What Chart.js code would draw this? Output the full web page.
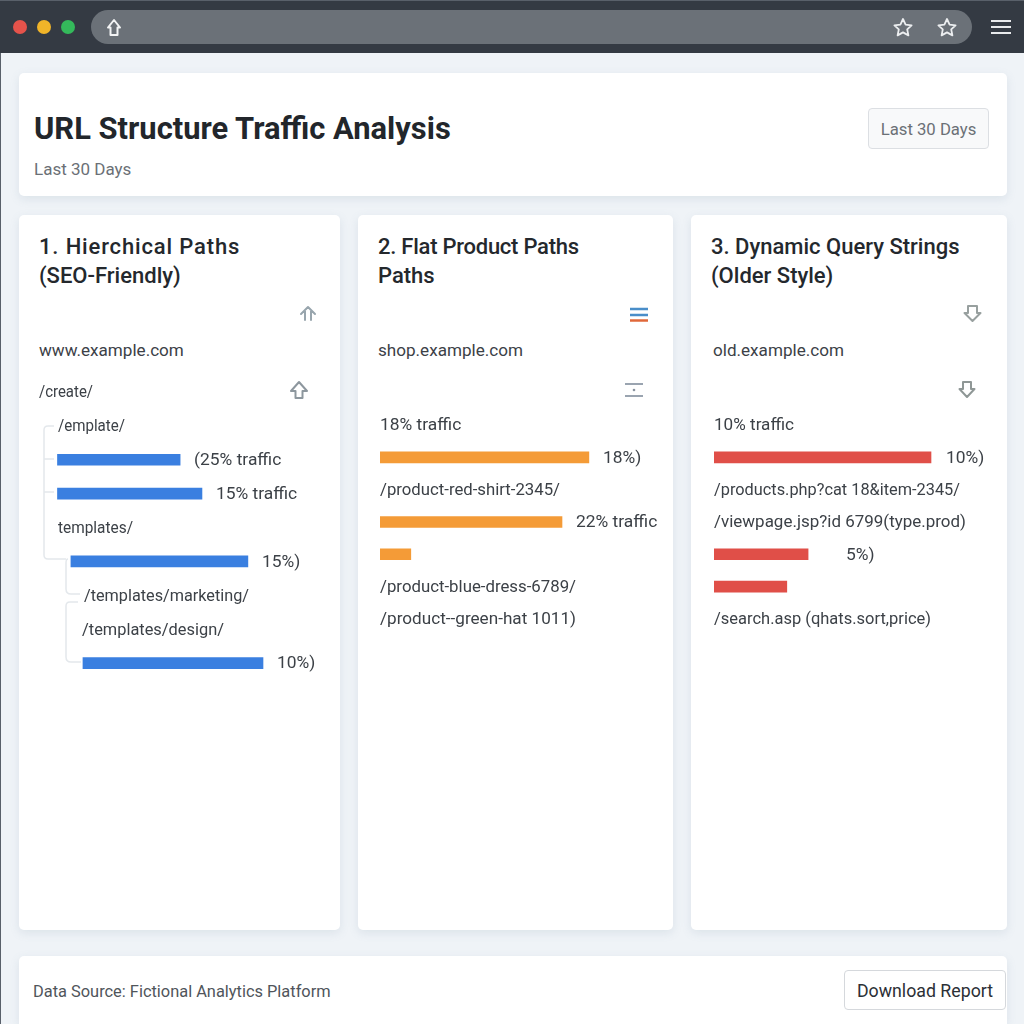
<!DOCTYPE html>
<html>
<head>
<meta charset="utf-8">
<title>URL Structure Traffic Analysis</title>
<script src="https://cdn.jsdelivr.net/npm/chart.js@4"></script>
<style>
  html, body { margin: 0; padding: 0; }
  body { width: 1024px; height: 1024px; overflow: hidden; position: relative; background: #eff3f7; font-family: Roboto, sans-serif; }
  .abs { position: absolute; white-space: nowrap; }
  .panel { position: absolute; background: #fff; border-radius: 5px; box-shadow: 0 3px 10px rgba(120,140,170,.16); }
  .topbar { position: absolute; left: 0; top: 0; width: 1024px; height: 53px; background: #343a43; border-top: 1px solid #59606a; box-sizing: border-box; }
  .pill { position: absolute; left: 91px; top: 10px; width: 881px; height: 34px; background: #6b7178; border-radius: 17px; }
  .dot { position: absolute; top: 20px; width: 14px; height: 14px; border-radius: 50%; }
  .btn { position: absolute; box-sizing: border-box; border-radius: 4px; text-align: center; white-space: nowrap; }
  .card-title { font-size: 22px; font-weight: 500; line-height: 29px; color: #24282d; }
  .domain { font-size: 17.1px; color: #3c4147; }
  canvas { position: absolute; }
  svg { position: absolute; left: 0; top: 0; }
</style>
</head>
<body>
<div class="topbar"></div>
<div class="pill"></div>
<div class="dot" style="left:13px;background:#e5534b"></div>
<div class="dot" style="left:37px;background:#f0b429"></div>
<div class="dot" style="left:61px;background:#34b95b"></div>
<div class="abs" style="left:0;top:53px;width:1px;height:971px;background:#59606a"></div>

<div class="panel" style="left:19px;top:73px;width:988px;height:123px"></div>
<div class="panel" style="left:19px;top:215px;width:321px;height:715px"></div>
<div class="panel" style="left:358px;top:215px;width:315px;height:715px"></div>
<div class="panel" style="left:691px;top:215px;width:316px;height:715px"></div>
<div class="panel" style="left:19px;top:956px;width:988px;height:68px;border-radius:5px 5px 0 0"></div>

<div class="abs" style="left:34px;top:110px;font-size:30.9px;font-weight:700;color:#22262b">URL Structure Traffic Analysis</div>
<div class="abs" style="left:34px;top:159px;font-size:17px;color:#6b7076">Last 30 Days</div>
<div class="btn" style="left:868px;top:108px;width:121px;height:41px;line-height:41px;font-size:16.7px;color:#6b7076;background:#f8f9fa;border:1px solid #dcdfe3">Last 30 Days</div>

<div class="abs card-title" style="left:39px;top:232px"><span style="letter-spacing:.85px">1. Hierchical Paths</span><br>(SEO-Friendly)</div>
<div class="abs card-title" style="left:378px;top:232px"><span style="letter-spacing:-.25px">2. Flat Product Paths</span><br>Paths</div>
<div class="abs card-title" style="left:711px;top:232px">3. Dynamic Query Strings<br>(Older Style)</div>

<div class="abs domain" style="left:39px;top:340px">www.example.com</div>
<div class="abs domain" style="left:378px;top:340px">shop.example.com</div>
<div class="abs domain" style="left:713px;top:340px">old.example.com</div>

<div class="abs" style="left:33px;top:982px;font-size:16.4px;color:#50555b">Data Source: Fictional Analytics Platform</div>
<div class="btn" style="left:844px;top:970px;width:162px;height:40px;line-height:40px;font-size:17.75px;color:#2c3036;background:#fff;border:1px solid #d5d8dc">Download Report</div>

<svg width="1024" height="1024" fill="none">
  <!-- browser icons -->
  <path d="M114 20l6 7.500h-2.500v7.500h-7v-7.500h-2.500z" stroke="#f2f3f4" stroke-width="2" stroke-linejoin="round"/>
  <path d="M903 19l2.600 5.600 6 .7-4.400 4.100 1.200 6-5.400-3-5.400 3 1.200-6-4.400-4.100 6-.7z" stroke="#eceef0" stroke-width="1.800" stroke-linejoin="round"/>
  <path d="M947 19l2.600 5.600 6 .7-4.400 4.100 1.200 6-5.400-3-5.400 3 1.200-6-4.400-4.100 6-.7z" stroke="#eceef0" stroke-width="1.800" stroke-linejoin="round"/>
  <path d="M991 21h20M991 27h20M991 33h20" stroke="#e8eaec" stroke-width="2"/>

  <!-- card icons -->
  <path d="M308 307l-7 7M308 307l7 7M305 311v9M311 311v9" stroke="#98a5ad" stroke-width="2" stroke-linecap="round"/>
  <path d="M299 382l-8 9h4.500v7h7v-7h4.500z" stroke="#8d979e" stroke-width="2" stroke-linejoin="round"/>
  <path d="M630 309h18M630 315h18" stroke="#4a8ec9" stroke-width="2.500"/>
  <path d="M630 320.500h18" stroke="#e0683a" stroke-width="2.500"/>
  <path d="M625 384h18M625 396h18" stroke="#9aa4b0" stroke-width="2"/>
  <circle cx="634" cy="390" r="1.300" fill="#8a94a0"/>
  <path d="M968 306h9v7h3.500l-8 8-8-8h3.500z" stroke="#98a09f" stroke-width="2" stroke-linejoin="round"/>
  <path d="M963 382h8v7h3.500l-7.500 8-7.500-8h3.500z" stroke="#8f9796" stroke-width="2" stroke-linejoin="round"/>

  <!-- tree connectors, first card -->
  <g stroke="#e4e8ec" stroke-width="1.500">
    <path d="M54 426h-6q-4 0-4 4v125q0 4 4 4h18"/>
    <path d="M44 459q0-0 10 0M44 492q0-0 10 0"/>
    <path d="M68 559q-2 0-2 4v26q0 5 5 5h9"/>
    <path d="M78 602h-8q-4 0-4 4v51q0 5 5 5h10"/>
  </g>
</svg>

<canvas id="paths-hierarchical" width="321" height="305" style="left:19px;top:375px"></canvas>
<canvas id="paths-flat" width="315" height="226" style="left:358px;top:409px"></canvas>
<canvas id="paths-dynamic" width="316" height="226" style="left:691px;top:409px"></canvas>

<script>
// rows of each card, top to bottom; a bar row has an empty path name
const hierPaths = ["/create/", "/emplate/", "", "", "templates/", "", "/templates/marketing/", "/templates/design/", ""];
const hierBars = [null, null, [6.6, 50.4], [6.6, 58.2], null, [11.4, 74.6], null, null, [15.7, 80]];
const hierTraffic = ["", "", "(25% traffic", "15% traffic", "", "15%)", "", "", "10%)"];

const flatPaths = ["18% traffic", "", "/product-red-shirt-2345/", "", "", "/product-blue-dress-6789/", "/product--green-hat 1011)"];
const flatBars = [null, [0, 74.6], null, [0, 65], [0, 11], null, null];
const flatTraffic = ["", "18%)", "", "22% traffic", "", "", ""];

const dynPaths = ["10% traffic", "", "/products.php?cat 18&item-2345/", "/viewpage.jsp?id 6799(type.prod)", "", "", "/search.asp (qhats.sort,price)"];
const dynBars = [null, [0, 77.5], null, null, [0, 33.6], [0, 26], null];
const dynTraffic = ["", "10%)", "", "", "5%)", "", ""];

// draws the path names and the traffic notes next to the bars
const rowText = {
  id: 'rowText',
  afterDatasetsDraw(chart, args, opts) {
    const ctx = chart.ctx;
    const x = chart.scales.x;
    const y = chart.scales.y;
    ctx.save();
    ctx.font = '17.4px Roboto';
    ctx.fillStyle = '#3c4147';
    ctx.textBaseline = 'middle';
    opts.paths.forEach(function(name, i) {
      if (name) ctx.fillText(name, x.left + opts.indent[i], y.getPixelForValue(i) + 1, opts.fit[i]);
    });
    opts.traffic.forEach(function(note, i) {
      if (note) ctx.fillText(note, x.getPixelForValue(opts.bars[i][1]) + (opts.gap[i] || 14), y.getPixelForValue(i) + 1);
    });
    ctx.restore();
  }
};

function drawCard(id, paths, bars, traffic, color, padLeft, padRight, indent, fit, gap) {
  new Chart(document.getElementById(id), {
    type: 'bar',
    plugins: [rowText],
    data: {
      labels: paths.map(function(p, i) { return p || 'row ' + i; }),
      datasets: [{
        data: bars,
        backgroundColor: color,
        barThickness: 11,
        borderSkipped: false
      }]
    },
    options: {
      indexAxis: 'y',
      responsive: false,
      animation: false,
      layout: { padding: { left: padLeft, right: padRight, top: 0, bottom: 0 } },
      scales: {
        x: { display: false, min: 0, max: 100 },
        y: { display: false }
      },
      plugins: {
        legend: { display: false },
        tooltip: { enabled: false },
        rowText: { paths: paths, bars: bars, traffic: traffic, indent: indent, fit: fit, gap: gap }
      }
    }
  });
}

drawCard('paths-hierarchical', hierPaths, hierBars, hierTraffic, '#3a7fe0', 20, 21,
  [0, 19, 0, 0, 19, 0, 45, 43, 0], [54, 67, 0, 0, 75, 0, 165, 142, 0], []);
drawCard('paths-flat', flatPaths, flatBars, flatTraffic, '#f49b37', 22, 13,
  [0, 0, 0, 0, 0, 0, 0], [82, 0, 180, 0, 0, 196, 196], []);
drawCard('paths-dynamic', dynPaths, dynBars, dynTraffic, '#e04f48', 23, 13,
  [0, 0, 0, 0, 0, 0, 0], [80, 0, 246, 252, 0, 0, 217], [0, 15, 0, 0, 38]);
</script>
</body>
</html>
